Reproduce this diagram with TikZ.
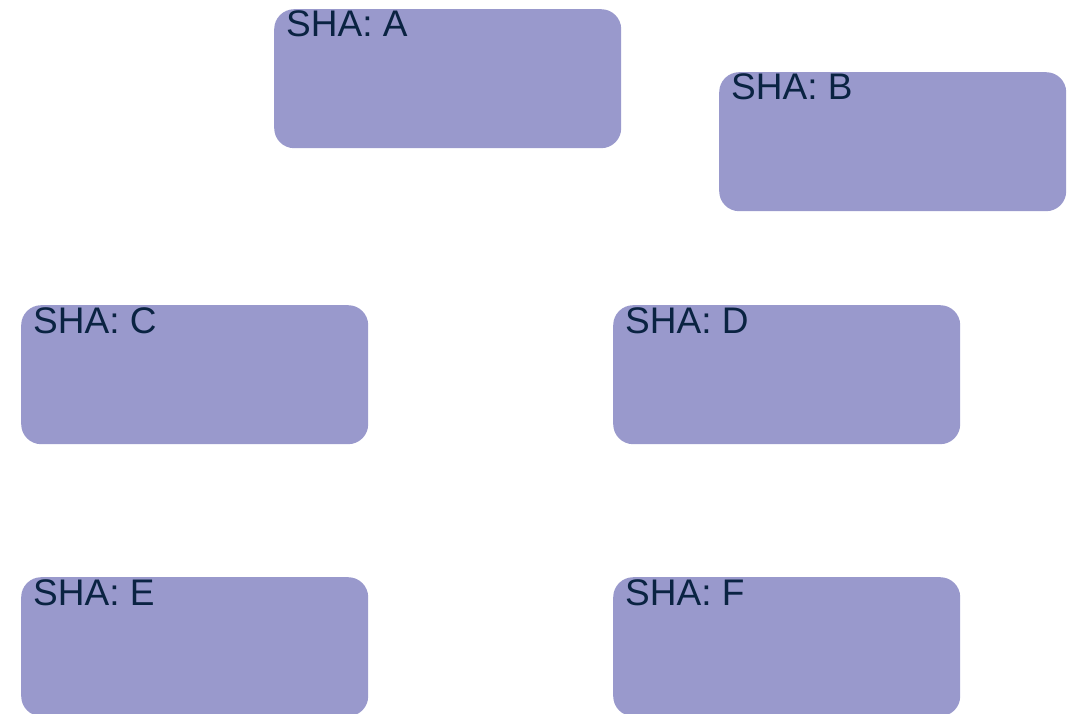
\documentclass[tikz,border=0pt]{standalone}
\usepackage{fontspec}
\setmainfont{Liberation Sans}
\definecolor{boxfill}{HTML}{9999CC}
\definecolor{labeltext}{HTML}{0A2342}
\begin{document}
\begin{tikzpicture}[x=1pt,y=-1pt,
  shabox/.style={fill=boxfill, draw=none, rounded corners=20pt, minimum width=347pt, minimum height=139pt, anchor=north west, inner sep=0pt},
  shalabel/.style={anchor=base west, text=labeltext, font=\fontsize{37}{40}\selectfont, inner sep=0pt}]
\useasboundingbox (0,0) rectangle (1076,714);
\node[shabox] (a) at (274,9) {};
\node[shabox] (b) at (719,72) {};
\node[shabox] (c) at (21,305) {};
\node[shabox] (d) at (613,305) {};
\node[shabox] (e) at (21,577) {};
\node[shabox] (f) at (613,577) {};
\foreach \n/\t in {a/A,b/B,c/C,d/D,e/E,f/F}{
  \node[shalabel] (l\n) at ([xshift=12pt,yshift=-28pt]\n.north west) {SHA: \t};
}
\end{tikzpicture}
\end{document}
